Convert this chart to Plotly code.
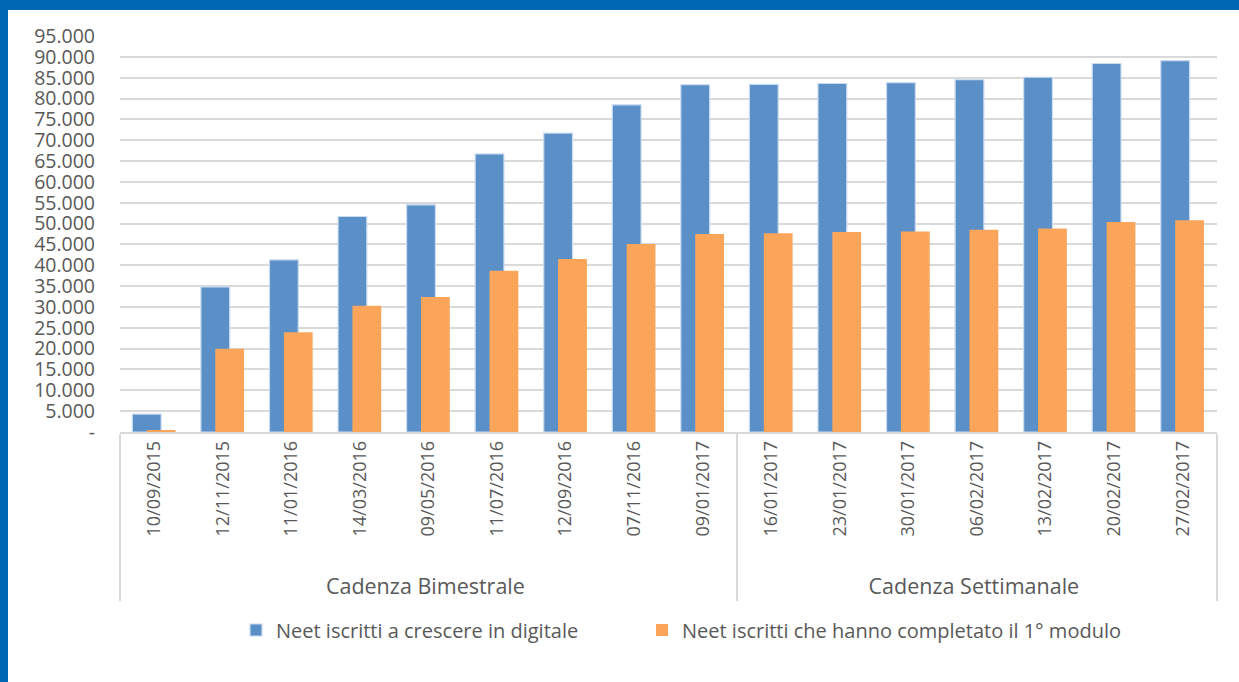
import plotly.graph_objects as go

groups = ["Cadenza Bimestrale"] * 9 + ["Cadenza Settimanale"] * 7
dates = ["10/09/2015", "12/11/2015", "11/01/2016", "14/03/2016", "09/05/2016",
         "11/07/2016", "12/09/2016", "07/11/2016", "09/01/2017",
         "16/01/2017", "23/01/2017", "30/01/2017", "06/02/2017", "13/02/2017",
         "20/02/2017", "27/02/2017"]
iscritti = [4300, 34800, 41300, 51700, 54500, 66700, 71700, 78500, 83300,
            83400, 83600, 83800, 84500, 85100, 88400, 89100]
completato = [400, 20000, 23900, 30300, 32400, 38700, 41500, 45100, 47500,
              47700, 48000, 48100, 48500, 48800, 50400, 50800]
series_names = ["Neet iscritti a crescere in digitale",
                "Neet iscritti che hanno completato il 1° modulo"]
y_ticks = list(range(0, 95001, 5000))
y_ticktext = ["-"] + [f"{v:,}".replace(",", ".") for v in y_ticks[1:]]

W, H = 1239, 682
ML, MR, MT, MB = 120, 22, 36, 250
PW, PH = W - ML - MR, H - MT - MB

def px(x):
    return (x - ML) / PW

def py(y):
    return (H - MB - y) / PH

# display labels: outer group labels slightly larger, inner labels padded so
# the group row sits lower, as in the reference
group_disp = [f"<span style='font-size:21.5px'>{g}</span>" for g in groups]
date_disp = ["\u00a0" * 5 + d for d in dates]

fig = go.Figure()
fig.add_trace(go.Bar(
    x=[group_disp, date_disp], y=iscritti, name=series_names[0],
    marker=dict(color="#5B8FC7", line=dict(color="#C9DCF0", width=1.2)),
    offset=-0.32, width=0.42, legend="legend",
))
fig.add_trace(go.Bar(
    x=[group_disp, date_disp], y=completato, name=series_names[1],
    marker=dict(color="#FBA55B", line=dict(width=0)),
    offset=-0.11, width=0.42, legend="legend2",
))

legend_common = dict(orientation="h", yanchor="middle", y=py(630),
                     xanchor="left", font=dict(size=20, color="#595959"),
                     itemwidth=30, bgcolor="rgba(0,0,0,0)")

fig.update_layout(
    width=W, height=H,
    margin=dict(l=ML, r=MR, t=MT, b=MB),
    paper_bgcolor="white", plot_bgcolor="white",
    barmode="overlay",
    font=dict(family="Open Sans", color="#595959", size=18),
    showlegend=True,
    legend=dict(x=px(236), **legend_common),
    legend2=dict(x=px(642), **legend_common),
    xaxis=dict(
        type="multicategory", tickangle=-90,
        showline=True, linecolor="#D9D9D9", linewidth=1.5,
        showgrid=False, ticks="",
        showdividers=True, dividercolor="#D9D9D9", dividerwidth=1.5,
        tickfont=dict(size=18, color="#595959"),
    ),
    yaxis=dict(
        range=[0, 95000], tickvals=y_ticks, ticktext=y_ticktext,
        showgrid=True, gridcolor="#D9D9D9", gridwidth=1.5,
        zeroline=False, showline=False, ticks="",
        ticklabelstandoff=24,
        tickfont=dict(size=19.5, color="#595959"),
    ),
    shapes=[
        dict(type="rect", xref="paper", yref="paper",
             x0=px(0), x1=px(W), y0=py(10), y1=py(0),
             fillcolor="#0067B4", line=dict(width=0), layer="above"),
        dict(type="rect", xref="paper", yref="paper",
             x0=px(0), x1=px(8), y0=py(H), y1=py(0),
             fillcolor="#0067B4", line=dict(width=0), layer="above"),
    ],
)

fig.write_html(
    "out.html",
    config={"displayModeBar": False},
    post_script="document.body.style.margin='0';"
                "document.body.style.overflow='hidden';",
)
